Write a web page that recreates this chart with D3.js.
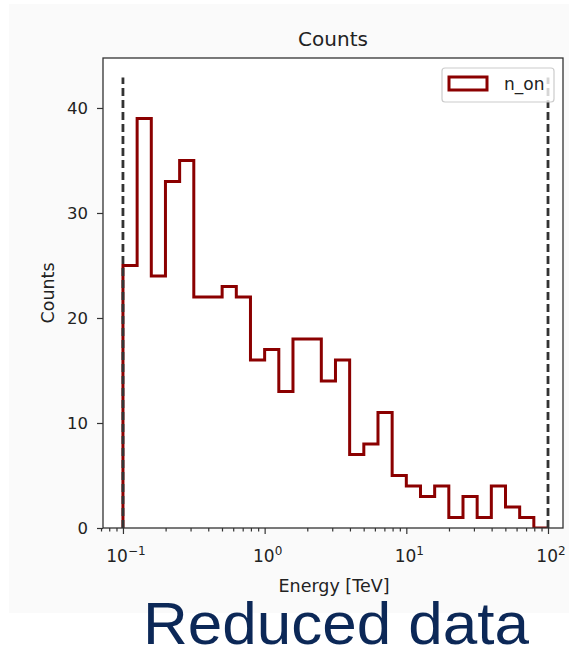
<!DOCTYPE html>
<html>
<head>
<meta charset="utf-8">
<script src="https://cdn.jsdelivr.net/npm/d3@7"></script>
<style>
  html, body { margin: 0; padding: 0; background: #ffffff; }
  svg { display: block; }
</style>
</head>
<body>
<svg id="chart" width="569" height="655"></svg>
<script>
// ---- data ----
const binEdges = [0.1, 0.1259, 0.1585, 0.1995, 0.2512, 0.3162, 0.3981, 0.5012, 0.631, 0.7943,
                  1, 1.259, 1.585, 1.995, 2.512, 3.162, 3.981, 5.012, 6.31, 7.943,
                  10, 12.59, 15.85, 19.95, 25.12, 31.62, 39.81, 50.12, 63.1, 79.43, 100];
const counts = [25, 39, 24, 33, 35, 22, 22, 23, 22, 16,
                17, 13, 18, 18, 14, 16, 7, 8, 11, 5,
                4, 3, 4, 1, 3, 1, 4, 2, 1, 0];
const thresholds = [0.1, 100];
const thresholdTop = 42.9;
const yTicks = [0, 10, 20, 30, 40];
const xTicks = [0.1, 1, 10, 100];
const xTickExp = ["\u22121", "0", "1", "2"];
const xMinorTicks = [0.07, 0.08, 0.09,
  0.2, 0.3, 0.4, 0.5, 0.6, 0.7, 0.8, 0.9,
  2, 3, 4, 5, 6, 7, 8, 9,
  20, 30, 40, 50, 60, 70, 80, 90];
const xDomain = [0.0723, 127.6];
const yDomain = [0, 44.76];
const seriesName = "n_on";
const titleText = "Counts";
const xLabelText = "Energy [TeV]";
const yLabelText = "Counts";
const captionText = "Reduced data";

// ---- layout ----
const svg = d3.select("#chart");
const L = 103, R = 563, T = 58, B = 528;
const red = "#8b0000";
const font = "'DejaVu Sans', sans-serif";

svg.append("rect").attr("x", 9).attr("y", 4).attr("width", 560).attr("height", 609).attr("fill", "#fafafa");
svg.append("rect").attr("x", L).attr("y", T).attr("width", R - L).attr("height", B - T).attr("fill", "#ffffff");

const x = d3.scaleLog().domain(xDomain).range([L, R]);
const y = d3.scaleLinear().domain(yDomain).range([B, T]);

svg.append("clipPath").attr("id", "clip")
  .append("rect").attr("x", L).attr("y", T).attr("width", R - L).attr("height", B - T);
const plot = svg.append("g").attr("clip-path", "url(#clip)");

// step histogram
const pts = [[binEdges[0], 0]];
counts.forEach((c, i) => { pts.push([binEdges[i], c]); pts.push([binEdges[i + 1], c]); });
pts.push([binEdges[binEdges.length - 1], 0]);
const line = d3.line().x(d => x(d[0])).y(d => y(d[1]));
plot.append("path").attr("d", line(pts))
  .attr("fill", "none").attr("stroke", red).attr("stroke-width", 3)
  .attr("stroke-linejoin", "miter");

// threshold dashed lines
plot.selectAll("line.thr").data(thresholds).enter().append("line")
  .attr("class", "thr")
  .attr("x1", d => x(d)).attr("x2", d => x(d))
  .attr("y1", y(0)).attr("y2", y(thresholdTop))
  .attr("stroke", "#333333").attr("stroke-width", 2.8)
  .attr("stroke-dasharray", "8,4");

// legend
const lg = svg.append("g");
lg.append("rect").attr("x", 442).attr("y", 68).attr("width", 112).attr("height", 34)
  .attr("rx", 3).attr("fill", "#ffffff").attr("fill-opacity", 0.8)
  .attr("stroke", "#cccccc").attr("stroke-width", 1.2);
lg.append("rect").attr("x", 449).attr("y", 77).attr("width", 38).attr("height", 13)
  .attr("fill", "none").attr("stroke", red).attr("stroke-width", 3);
lg.append("text").attr("x", 504).attr("y", 90).text(seriesName)
  .attr("font-family", font).attr("font-size", 17).attr("fill", "#222");

// axes
const xAxis = svg.append("g").attr("transform", `translate(0,${B})`)
  .call(d3.axisBottom(x).tickValues(xTicks).tickSize(6).tickFormat(""));
const xMinor = svg.append("g").attr("transform", `translate(0,${B})`)
  .call(d3.axisBottom(x).tickValues(xMinorTicks).tickSize(3.5).tickFormat(""));
const yAxis = svg.append("g").attr("transform", `translate(${L},0)`)
  .call(d3.axisLeft(y).tickValues(yTicks).tickSize(6).tickPadding(9));
[xAxis, xMinor, yAxis].forEach(g => {
  g.select(".domain").remove();
  g.selectAll(".tick line").attr("stroke", "#333").attr("stroke-width", 1.2);
});
yAxis.selectAll(".tick text").attr("font-family", font).attr("font-size", 16.5).attr("fill", "#222");

// x tick labels with superscripts
const xl = svg.append("g");
xTicks.forEach((v, i) => {
  const t = xl.append("text").attr("x", x(v) + 3).attr("y", 562)
    .attr("text-anchor", "middle").attr("font-family", font).attr("font-size", 17).attr("fill", "#222");
  t.append("tspan").text("10");
  t.append("tspan").attr("dy", -7).attr("font-size", 12).text(xTickExp[i]);
});

// frame
svg.append("rect").attr("x", L).attr("y", T).attr("width", R - L).attr("height", B - T)
  .attr("fill", "none").attr("stroke", "#333").attr("stroke-width", 1.3);

// titles
svg.append("text").attr("x", (L + R) / 2).attr("y", 46).attr("text-anchor", "middle")
  .attr("font-family", font).attr("font-size", 20).attr("fill", "#222").text(titleText);
svg.append("text").attr("x", 334).attr("y", 592).attr("text-anchor", "middle")
  .attr("font-family", font).attr("font-size", 17.5).attr("fill", "#222").text(xLabelText);
svg.append("text").attr("transform", `translate(54,${(T + B) / 2}) rotate(-90)`)
  .attr("text-anchor", "middle")
  .attr("font-family", font).attr("font-size", 17.5).attr("fill", "#222").text(yLabelText);

// caption
svg.append("text").attr("x", 336).attr("y", 644).attr("text-anchor", "middle")
  .attr("font-family", "'Liberation Sans', Arial, sans-serif").attr("font-size", 59)
  .attr("textLength", 386).attr("lengthAdjust", "spacingAndGlyphs")
  .attr("fill", "#0c2857").text(captionText);
</script>
</body>
</html>
